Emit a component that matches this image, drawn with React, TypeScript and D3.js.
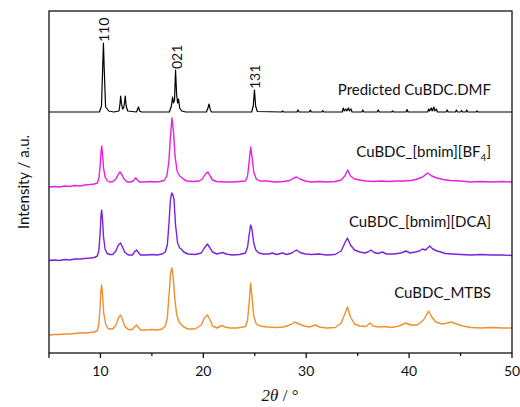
import React from "react";
import * as d3 from "d3";

const W = 520;
const H = 407;

// x ticks (2θ, degrees)
const xTicksMajor = [10, 20, 30, 40, 50];
const xTicksMinor = [5, 15, 25, 35, 45];

// Series: [2θ, intensity relative to series offset]
const predicted: [number, number][] = [
  [5,0],[9.9,0],[10.1,6],[10.22,45],[10.29,69],[10.36,45],[10.5,5],[10.8,1],[11.3,0],[11.8,1],[11.9,8],[11.96,16],[12.05,8],[12.15,3],[12.25,4],[12.35,10],[12.41,16],[12.5,6],[12.65,1],[13.5,0],[13.65,4],[13.71,5],[13.8,1],[14,0],[16.7,0],[16.9,6],[17.01,15],[17.1,9],[17.2,12],[17.3,42],[17.4,18],[17.5,9],[17.59,13],[17.7,4],[17.9,1],[18.3,0],[20.3,0],[20.45,4],[20.56,8],[20.68,2],[20.8,0],[24.7,0],[24.85,6],[24.97,22],[25.08,6],[25.25,0.5],[27.6,0],[27.7,1],[27.8,0],[29.1,0],[29.2,2],[29.3,0],[30.3,0],[30.4,2],[30.5,0],[31.5,0],[31.6,1.5],[31.7,0],[33.5,0],[33.6,4],[33.7,1],[33.85,3],[33.95,1],[34.1,4],[34.2,1],[34.35,3],[34.45,0],[35.4,0],[35.5,2],[35.6,0],[36.9,0],[37,2],[37.1,0],[38.3,0],[38.4,1],[38.5,0],[39.7,0],[39.8,2.5],[39.9,0],[41.8,0],[41.9,3],[42,1],[42.15,4],[42.25,1],[42.4,5],[42.5,1],[42.65,3],[42.75,0],[43.6,0],[43.7,2],[43.8,0],[44.5,0],[44.6,2],[44.7,0],[45,0],[45.1,1.5],[45.2,0],[45.5,0],[45.6,2],[45.7,0],[46.5,0],[46.6,1],[46.7,0],[50,0]
];

const bf4: [number, number][] = [
  [5,-5],[5.5,-4.5],[6,-5],[6.5,-4],[7,-4.5],[7.5,-3.5],[8,-4],[8.5,-3],[9,-2.5],[9.4,-2],[9.7,-1],[9.85,4],[9.97,16],[10.06,30],[10.12,36],[10.2,28],[10.3,14],[10.45,5],[10.65,1.5],[10.9,0],[11.2,0.5],[11.5,3],[11.75,8],[11.9,10],[12.05,8],[12.3,3],[12.6,0],[12.9,0],[13.2,1],[13.35,3.5],[13.45,4],[13.6,2],[13.8,0],[14.3,0],[14.8,0.5],[15.3,0],[15.8,0.5],[16.2,1.5],[16.45,6],[16.65,20],[16.8,45],[16.95,64],[17.1,50],[17.25,26],[17.45,11],[17.7,6],[17.85,5],[18.1,2.5],[18.4,1],[19,0.5],[19.6,1],[19.9,3],[20.2,8],[20.44,10],[20.65,6],[20.9,2],[21.3,0.5],[22,0],[22.8,0],[23.5,0.5],[24.1,1],[24.3,6],[24.45,20],[24.6,35],[24.72,26],[24.9,10],[25.15,3],[25.5,1],[26.2,1],[27,0],[27.8,0.5],[28.4,1.5],[28.8,4],[29.05,5],[29.4,3],[29.9,1],[30.5,0],[31.3,0.5],[32,0],[32.8,0.5],[33.4,2],[33.75,6],[34.03,12],[34.3,6],[34.7,3],[35.2,2],[35.8,1],[36.5,0.5],[37.3,1],[38,0.5],[38.8,1],[39.5,1],[40.2,1.5],[40.8,3],[41.3,5],[41.8,9],[42.2,6],[42.7,4],[43.3,2.5],[44,1.5],[45,1],[46,0],[47,0.5],[48,0],[49,0.5],[50,0]
];

const dca: [number, number][] = [
  [5,-5.5],[5.5,-5],[6,-5.5],[6.5,-4.5],[7,-5],[7.5,-4],[8,-4],[8.5,-3.5],[9,-3],[9.4,-2.5],[9.7,-1],[9.85,5],[9.97,22],[10.06,40],[10.12,45],[10.2,36],[10.3,18],[10.45,6],[10.65,1.5],[10.9,0.5],[11.2,0.5],[11.5,4],[11.75,10],[11.95,12],[12.1,9],[12.35,3],[12.7,0],[13.1,0],[13.3,3],[13.5,5],[13.65,3],[13.9,0],[14.5,0],[15,0.5],[15.5,0],[16,1],[16.3,3],[16.5,10],[16.65,30],[16.8,55],[16.92,62],[17.05,60],[17.15,55],[17.3,30],[17.5,12],[17.7,7],[17.85,6],[18.1,3],[18.5,1],[19.2,0.5],[19.8,2],[20.1,7],[20.4,11],[20.65,7],[20.9,3],[21.3,1],[21.7,2],[21.9,2.5],[22.2,1],[22.8,0],[23.5,0.5],[24.1,2],[24.3,8],[24.45,20],[24.6,30],[24.72,26],[24.9,12],[25.1,5],[25.4,2],[25.8,1],[26.4,1],[26.7,2],[27.1,0.5],[27.7,2],[28.1,0.5],[28.6,2],[29.05,5],[29.4,2.5],[29.9,1],[30.5,0.5],[31.2,1],[32,0],[32.8,0.5],[33.4,4],[33.75,12],[34.0,17],[34.3,10],[34.7,5],[35.2,3],[35.7,2],[36.0,3],[36.3,5],[36.6,2.5],[37,1.5],[37.4,3],[37.8,1],[38.5,1],[39.2,2],[39.7,4],[40.1,2],[40.6,3],[41.0,4],[41.3,6],[41.6,5],[42.0,9],[42.3,6],[42.7,4],[43.1,3],[43.5,1.5],[44.2,1],[45,0.5],[46,0],[47,0.5],[48,0],[49,0],[50,-0.5]
];

const mtbs: [number, number][] = [
  [5,-7],[5.5,-6.5],[6,-6.5],[6.5,-6],[7,-6],[7.5,-5.5],[8,-5],[8.5,-5],[9,-4.5],[9.4,-4],[9.7,-2.5],[9.85,4],[9.97,22],[10.05,38],[10.12,43],[10.2,34],[10.32,15],[10.5,4],[10.7,0],[10.9,-1],[11.2,-1],[11.5,3],[11.75,10],[11.95,13],[12.1,10],[12.35,2],[12.7,-1.5],[13.1,-1.5],[13.3,1],[13.5,3],[13.65,1],[13.9,-2],[14.5,-2],[15,-1.5],[15.5,-2],[16,-1],[16.3,2],[16.5,10],[16.68,35],[16.82,55],[16.95,60],[17.08,50],[17.22,30],[17.4,14],[17.6,7],[17.8,4],[18.1,1],[18.5,-1],[19.2,-1],[19.8,3],[20.1,10],[20.4,13],[20.65,8],[20.9,2],[21.3,0],[21.6,1.5],[21.8,2.5],[22.1,1],[22.6,0],[23.3,0],[24.1,1.5],[24.3,8],[24.45,25],[24.6,45],[24.72,32],[24.9,12],[25.15,4],[25.5,2],[26.2,1],[27,0.5],[27.8,1],[28.4,3],[28.9,6],[29.3,4],[29.8,2],[30.3,1],[30.9,3],[31.3,1],[32,0],[32.8,0.5],[33.4,5],[33.75,14],[34.0,21],[34.3,11],[34.7,4],[35.2,2],[35.8,1.5],[36.2,5],[36.5,2],[37,1],[37.6,1.5],[38.3,0.5],[39,2],[39.7,5],[40.1,3],[40.8,3],[41.4,8],[41.9,17],[42.2,11],[42.6,6],[43.2,4],[43.7,5],[44.1,6],[44.6,4],[45.2,2],[46,0.5],[47,0],[48,0.5],[49,0],[50,0]
];

const seriesNames = ["Predicted CuBDC.DMF", "CuBDC_[bmim][BF4]", "CuBDC_[bmim][DCA]", "CuBDC_MTBS"];
const seriesOffsets = [241, 171, 98, 25];
const seriesColors = ["#000000", "#e61ee6", "#7a22dc", "#f0902a"];
const seriesData = [predicted, bf4, dca, mtbs];

// Miller index annotations on predicted pattern
const hklPos = [10.29, 17.3, 24.97];
const hklInt = [69, 42, 22];
const hklLabels = ["110", "021", "131"];

export default function App() {
  const m = { left: 49, right: 512, top: 11, bottom: 353 };
  const x = d3.scaleLinear().domain([5, 50]).range([m.left, m.right]);
  const y = d3.scaleLinear().domain([0, 342]).range([m.bottom, m.top]);
  const font = "Lato, 'Open Sans', sans-serif";

  const lines = seriesData.map((d, i) =>
    d3.line<[number, number]>()
      .x((p) => x(p[0]))
      .y((p) => y(p[1] + seriesOffsets[i]))(d) as string
  );

  const labelY = [95, 157, 227, 298];

  return (
    <svg width={W} height={H} style={{ position: "absolute", left: 0, top: 0, background: "#fff" }}>
      <rect x={0} y={0} width={W} height={H} fill="#fff" />
      {lines.map((p, i) => (
        <path key={i} d={p} fill="none" stroke={seriesColors[i]} strokeWidth={i === 0 ? 1.2 : 1.4} strokeLinejoin="round" />
      ))}
      <rect x={m.left} y={m.top} width={m.right - m.left} height={m.bottom - m.top} fill="none" stroke="#111" strokeWidth={1.3} />
      {xTicksMajor.map((t) => (
        <g key={"M" + t}>
          <line x1={x(t)} x2={x(t)} y1={m.bottom} y2={m.bottom + 5} stroke="#111" strokeWidth={1.3} />
          <text x={x(t)} y={376} textAnchor="middle" fontFamily={font} fontSize={14} fill="#111">{t}</text>
        </g>
      ))}
      {xTicksMinor.map((t) => (
        <line key={"m" + t} x1={x(t)} x2={x(t)} y1={m.bottom} y2={m.bottom + (t === 5 ? 5 : 3)} stroke="#111" strokeWidth={1.3} />
      ))}
      {hklLabels.map((l, i) => (
        <text key={l} transform={`translate(${x(hklPos[i]) + 6},${y(hklInt[i] + seriesOffsets[0]) - 1}) rotate(-90)`}
          fontFamily={font} fontSize={14} fill="#111">{l}</text>
      ))}
      {seriesNames.map((n, i) => {
        const sub = n.match(/^(.*\[)BF4(\])$/);
        return (
          <text key={n} x={491} y={labelY[i]} textAnchor="end" fontFamily={font} fontSize={15} fill="#111">
            {sub ? (<>{sub[1]}BF<tspan fontSize={10} dy={4}>4</tspan><tspan dy={-4}>]</tspan></>) : n}
          </text>
        );
      })}
      <text transform={`translate(29,${(m.top + m.bottom) / 2}) rotate(-90)`} textAnchor="middle" fontFamily={font} fontSize={15} fill="#111">
        Intensity / a.u.
      </text>
      <text x={280} y={401} textAnchor="middle" fontSize={17} fill="#111">
        <tspan fontFamily="'Liberation Serif', serif" fontStyle="italic">2θ</tspan>
        <tspan fontFamily="'Liberation Serif', serif"> / °</tspan>
      </text>
    </svg>
  );
}
